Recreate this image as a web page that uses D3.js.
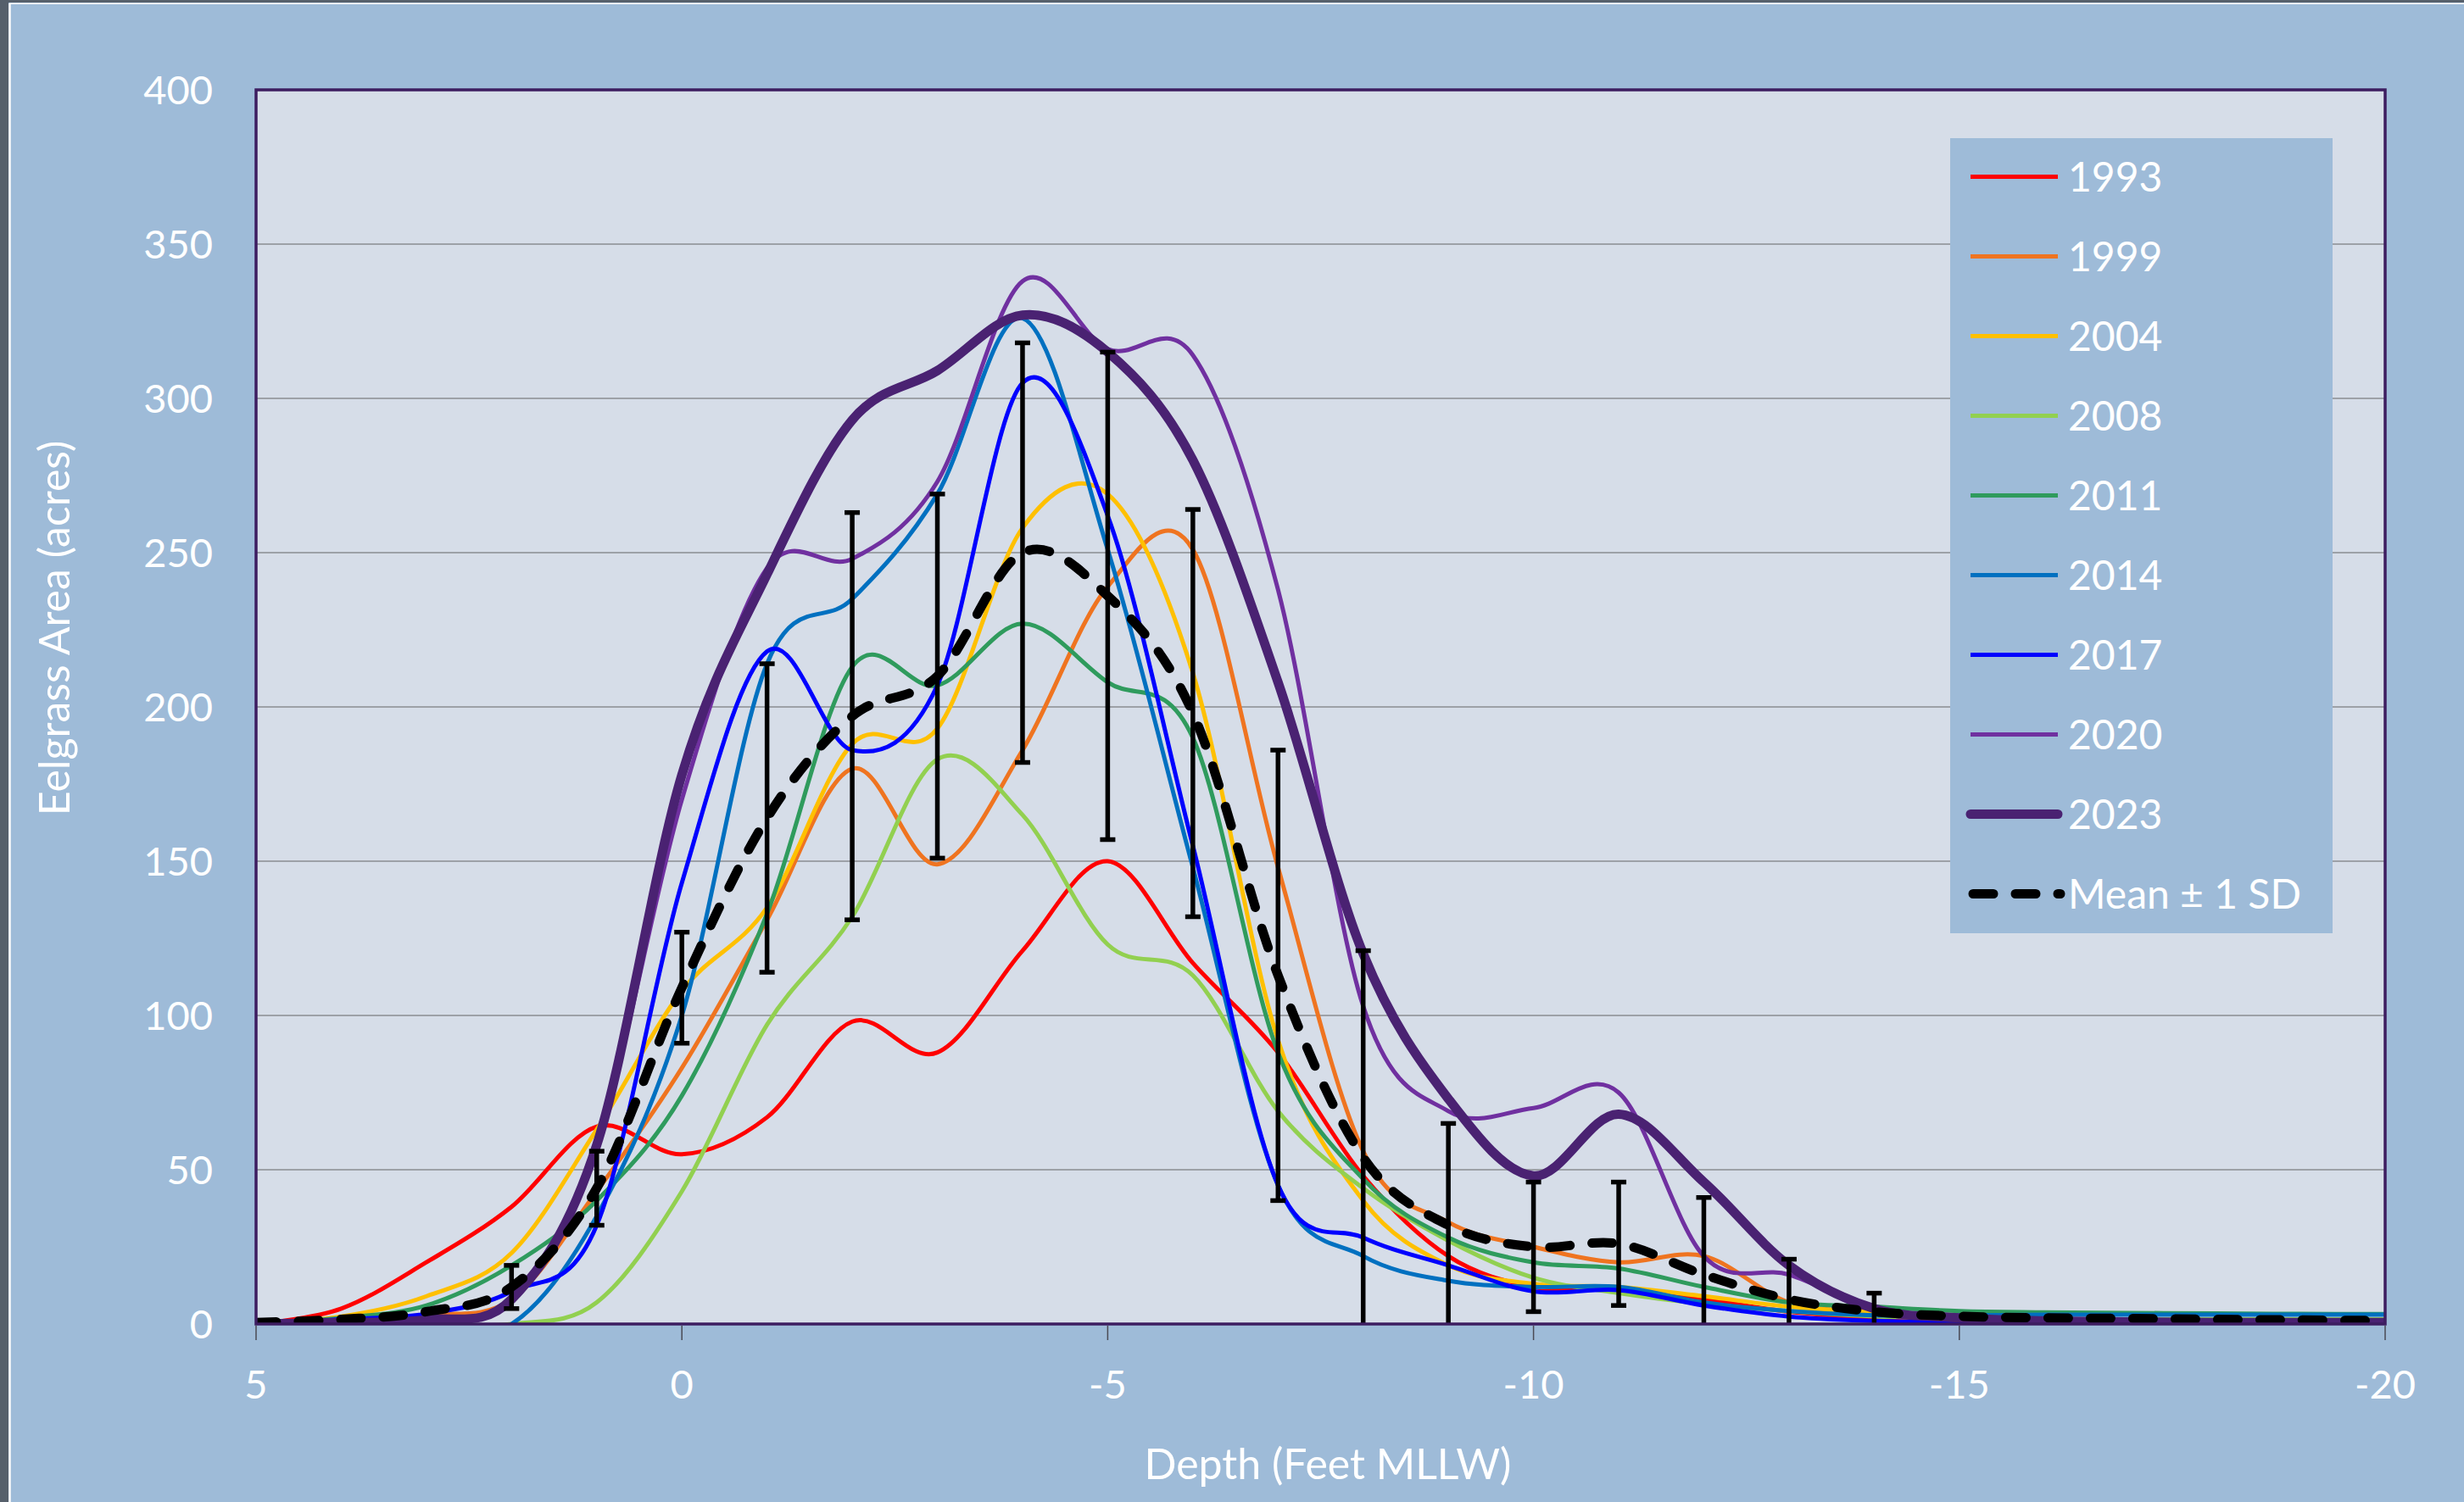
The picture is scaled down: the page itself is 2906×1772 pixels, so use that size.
<!DOCTYPE html>
<html>
<head>
<meta charset="utf-8">
<script src="https://cdn.jsdelivr.net/npm/d3@7"></script>
<style>
  html, body { margin: 0; padding: 0; background: #9ebbd8; }
  svg { display: block; }
</style>
</head>
<body>
<svg id="chart" width="2906" height="1772"></svg>
<script>
// Depth bins (feet MLLW) and eelgrass area (acres) per survey year
const depths = [5, 4, 3, 2, 1, 0, -1, -2, -3, -4, -5, -6, -7, -8, -9, -10, -11, -12, -13, -14, -15, -16, -17, -18, -19, -20];

const area1993 = [0, 5, 20, 38, 64, 55, 67, 98, 88, 121, 150, 117, 88, 48, 22, 12, 11, 8, 4, 2, 1, 0.5, 0.5, 0.5, 0.5, 0.5];
const area1999 = [0, 1.5, 3, 8, 43, 83, 131, 180, 149, 186, 239, 251, 148, 56, 33, 25, 20, 22, 7, 4, 2, 1.5, 1.5, 1.5, 1.5, 1.5];
const area2004 = [0, 2.4, 9, 23, 63, 108, 135, 188, 193, 258, 269, 211, 92, 40, 19, 13, 12, 9, 5.6, 3.8, 2, 1.5, 1.5, 1.5, 1.5, 1.5];
const area2008 = [0, 0, 0, 0, 7, 43, 97, 132, 183, 165, 123, 113, 69, 44, 27, 15, 10, 6.5, 4.2, 2.5, 2, 1.5, 1.5, 1.5, 1.5, 1.5];
const area2011 = [0, 2, 6, 19, 40, 74, 133, 213, 207, 227, 208, 190, 88, 47, 28, 20, 18, 12, 7, 5.6, 4.2, 3.8, 3.6, 3.4, 3.3, 3.2];
const area2014 = [0, 0, 0, 0, 35, 100, 214, 235, 269, 326, 251, 148, 45, 22, 14, 12, 12, 7, 4.2, 2.8, 2.8, 3, 3, 3, 3, 3];
const area2017 = [0, 1.5, 3.3, 10.6, 32, 143, 218, 186, 207, 305, 262, 155, 45, 28, 19, 10.6, 11, 6, 2.4, 1, 0.5, 0, 0, 0, 0, 0];
const area2020 = [0, 0.5, 1.4, 8, 58, 170, 245, 248, 273, 338, 316, 314, 238, 103, 69, 70, 75, 22, 16, 5, 2, 1, 1, 1, 1, 1];
const area2023 = [0, 0.5, 1.4, 8, 58, 178, 243, 293, 309, 327, 315, 280, 208, 120, 73, 48, 68, 46, 19, 5, 2, 1, 0.7, 0.5, 0.5, 0.5];

// Mean of all surveys and one standard deviation
const meanArea = [0.5, 1.5, 4, 12, 44, 109, 164, 197, 210, 250, 236, 198, 113, 54, 32, 25, 26, 16, 8, 4, 2.5, 2, 1.8, 1.5, 1.3, 1.1];
const sdArea   = [0, 0, 0, 7, 12, 18, 50, 66, 59, 68, 79, 66, 73, 67, 33, 21, 20, 25, 13, 6, 0, 0, 0, 0, 0, 0];

const years = ["1993", "1999", "2004", "2008", "2011", "2014", "2017", "2020", "2023"];
const yearValues = [area1993, area1999, area2004, area2008, area2011, area2014, area2017, area2020, area2023];
const meanLabel = "Mean \u00B1 1 SD";

const xTicks = [5, 0, -5, -10, -15, -20];
const yTicks = [0, 50, 100, 150, 200, 250, 300, 350, 400];

// Line styling per year
const yearColor = {
  "1993": "#ff0000", "1999": "#ef7420", "2004": "#ffc000", "2008": "#92d050",
  "2011": "#2f9b5d", "2014": "#0070c0", "2017": "#0000ff", "2020": "#7030a0", "2023": "#4a2272"
};
const yearWidth = y => (y === "2023" ? 11 : 5);

const W = 2906, H = 1772;
const plot = { left: 302, right: 2813, top: 106, bottom: 1562 };
const font = "Lato, 'Open Sans', sans-serif";

const svg = d3.select("#chart");

// Outer panel and frame edges
svg.append("rect").attr("width", W).attr("height", H).attr("fill", "#9ebbd8");
svg.append("rect").attr("x", 0).attr("y", 0).attr("width", 10).attr("height", H).attr("fill", "#56606b");
svg.append("rect").attr("x", 0).attr("y", 0).attr("width", W).attr("height", 3).attr("fill", "#56606b");
svg.append("line").attr("x1", 11.5).attr("x2", 11.5).attr("y1", 4).attr("y2", H).attr("stroke", "#ffffff").attr("stroke-width", 2.5);
svg.append("line").attr("x1", 11).attr("x2", W).attr("y1", 4.2).attr("y2", 4.2).attr("stroke", "#ffffff").attr("stroke-width", 1.5);

const x = d3.scaleLinear().domain([5, -20]).range([plot.left, plot.right]);
const y = d3.scaleLinear().domain([0, 400]).range([plot.bottom, plot.top]);

// Plot area background
svg.append("rect")
  .attr("x", plot.left).attr("y", plot.top)
  .attr("width", plot.right - plot.left).attr("height", plot.bottom - plot.top)
  .attr("fill", "#d6dde8");

svg.append("clipPath").attr("id", "plotClip")
  .append("rect")
  .attr("x", plot.left).attr("y", plot.top)
  .attr("width", plot.right - plot.left).attr("height", plot.bottom - plot.top);

// Horizontal gridlines
svg.append("g").selectAll("line")
  .data(yTicks.filter(t => t > 0 && t < 400))
  .join("line")
  .attr("x1", plot.left).attr("x2", plot.right)
  .attr("y1", d => y(d)).attr("y2", d => y(d))
  .attr("stroke", "#8a8c92").attr("stroke-width", 1.6);

const lineGen = d3.line()
  .x(d => x(d[0]))
  .y(d => y(d[1]))
  .curve(d3.curveCardinal.tension(0));

const plotG = svg.append("g").attr("clip-path", "url(#plotClip)");

// Annual curves
years.forEach((yr, i) => {
  const pts = depths.map((d, j) => [d, yearValues[i][j]]);
  plotG.append("path")
    .attr("d", lineGen(pts))
    .attr("fill", "none")
    .attr("stroke", yearColor[yr])
    .attr("stroke-width", yearWidth(yr))
    .attr("stroke-linejoin", "round")
    .attr("stroke-linecap", "round");
});

// Error bars (mean ± 1 SD)
const capHalf = 9;
const bars = depths.map((d, j) => ({ d, m: meanArea[j], s: sdArea[j] })).filter(b => b.s > 0);
const eb = plotG.append("g").attr("stroke", "#000").attr("stroke-width", 5.5);
eb.selectAll("line.v").data(bars).join("line").attr("class", "v")
  .attr("x1", b => x(b.d)).attr("x2", b => x(b.d))
  .attr("y1", b => y(b.m - b.s)).attr("y2", b => y(b.m + b.s));
eb.selectAll("line.t").data(bars).join("line").attr("class", "t")
  .attr("x1", b => x(b.d) - capHalf).attr("x2", b => x(b.d) + capHalf)
  .attr("y1", b => y(b.m + b.s)).attr("y2", b => y(b.m + b.s));
eb.selectAll("line.b").data(bars).join("line").attr("class", "b")
  .attr("x1", b => x(b.d) - capHalf).attr("x2", b => x(b.d) + capHalf)
  .attr("y1", b => y(b.m - b.s)).attr("y2", b => y(b.m - b.s));

// Mean curve
plotG.append("path")
  .attr("d", lineGen(depths.map((d, j) => [d, meanArea[j]])))
  .attr("fill", "none")
  .attr("stroke", "#000")
  .attr("stroke-width", 11)
  .attr("stroke-dasharray", "24 26")
  .attr("stroke-linecap", "round");

// Plot border
svg.append("rect")
  .attr("x", plot.left).attr("y", plot.top)
  .attr("width", plot.right - plot.left).attr("height", plot.bottom - plot.top)
  .attr("fill", "none").attr("stroke", "#3d1d60").attr("stroke-width", 3.5);

// X axis tick marks and labels
const xAxis = svg.append("g");
xAxis.selectAll("line").data(xTicks).join("line")
  .attr("x1", d => x(d)).attr("x2", d => x(d))
  .attr("y1", plot.bottom + 2).attr("y2", plot.bottom + 19)
  .attr("stroke", "#4a4a55").attr("stroke-width", 1.5);
xAxis.selectAll("text").data(xTicks).join("text")
  .attr("x", d => x(d)).attr("y", 1650)
  .attr("text-anchor", "middle")
  .attr("font-family", font).attr("font-size", 47).attr("fill", "#ffffff")
  .text(d => String(d));

// Y axis labels
svg.append("g").selectAll("text").data(yTicks).join("text")
  .attr("x", 251).attr("y", d => y(d) + 17)
  .attr("text-anchor", "end")
  .attr("font-family", font).attr("font-size", 47).attr("fill", "#ffffff")
  .text(d => String(d));

// Axis titles
svg.append("text")
  .attr("x", 1566).attr("y", 1745)
  .attr("text-anchor", "middle")
  .attr("font-family", font).attr("font-size", 50).attr("fill", "#ffffff")
  .text("Depth (Feet MLLW)");

svg.append("text")
  .attr("transform", "translate(82,741) rotate(-90)")
  .attr("text-anchor", "middle")
  .attr("font-family", font).attr("font-size", 50).attr("fill", "#ffffff")
  .text("Eelgrass Area (acres)");

// Legend
const legend = svg.append("g");
legend.append("rect")
  .attr("x", 2300).attr("y", 163).attr("width", 451).attr("height", 938)
  .attr("fill", "#9ebbd8");

const legendItems = years.map(yr => ({ label: yr, color: yearColor[yr], width: yearWidth(yr), dashed: false }))
  .concat([{ label: meanLabel, color: "#000", width: 11, dashed: true }]);
const legendY = i => 208.5 + i * 94.0;

legendItems.forEach((it, i) => {
  const ly = legendY(i);
  legend.append("line")
    .attr("x1", it.dashed ? 2327 : 2324).attr("x2", it.dashed ? 2430 : 2427)
    .attr("y1", ly).attr("y2", ly)
    .attr("stroke", it.color).attr("stroke-width", it.width)
    .attr("stroke-linecap", it.dashed || it.width > 6 ? "round" : "butt")
    .attr("stroke-dasharray", it.dashed ? "24 26" : null);
  legend.append("text")
    .attr("x", 2439).attr("y", ly + 17)
    .attr("font-family", font).attr("font-size", 48).attr("fill", "#ffffff")
    .text(it.label);
});
</script>
</body>
</html>
